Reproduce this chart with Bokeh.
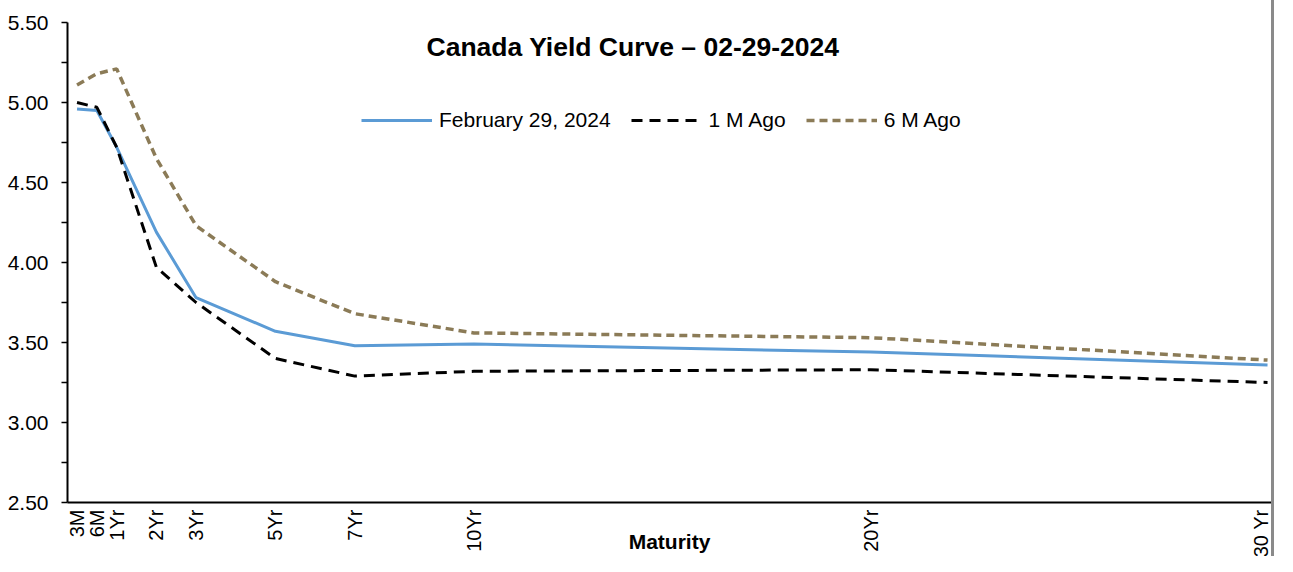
import math
from bokeh.plotting import figure
from bokeh.models import (Range1d, FixedTicker, NumeralTickFormatter, Label,
                          Legend, LegendItem, ColumnDataSource)
from bokeh.embed import file_html
from bokeh.resources import INLINE

# ---- data ----
maturity_labels = ["3M", "6M", "1Yr", "2Yr", "3Yr", "5Yr", "7Yr", "10Yr", "20Yr", "30 Yr"]
maturity_pos = [0.0, 0.5, 1, 2, 3, 5, 7, 10, 20, 30]   # positions
current = [4.96, 4.95, 4.72, 4.19, 3.78, 3.57, 3.48, 3.49, 3.44, 3.36]
one_month_ago = [5.00, 4.97, 4.72, 3.97, 3.75, 3.40, 3.29, 3.32, 3.33, 3.25]
six_months_ago = [5.11, 5.18, 5.21, 4.65, 4.23, 3.88, 3.68, 3.56, 3.53, 3.39]
series_names = ["February 29, 2024", "1 M Ago", "6 M Ago"]
y_ticks = [2.5, 3.0, 3.5, 4.0, 4.5, 5.0, 5.5]
y_minor = [2.75, 3.25, 3.75, 4.25, 4.75, 5.25]
title_text = "Canada Yield Curve \u2013 02-29-2024"
x_title = "Maturity"

FONT = "Liberation Sans"

src = ColumnDataSource(dict(x=maturity_pos, cur=current, m1=one_month_ago, m6=six_months_ago))

p = figure(width=1274, height=556, output_backend="svg", toolbar_location=None,
           x_range=Range1d(-0.24, 30.1), y_range=Range1d(2.5, 5.5),
           min_border_left=67, min_border_right=3, min_border_top=22, min_border_bottom=50)
p.styles = {"border-right": "3px solid #8a8a8a"}
p.outline_line_color = None
p.xgrid.visible = False
p.ygrid.visible = False
p.background_fill_color = "white"
p.border_fill_color = "white"

r_cur = p.line("x", "cur", source=src, line_color="#5B9BD5", line_width=3)
r_m1 = p.line("x", "m1", source=src, line_color="black", line_width=3, line_dash="11 7")
r_m6 = p.line("x", "m6", source=src, line_color="#8B7B57", line_width=3.5, line_dash="8 5")

# y axis
ya = p.yaxis[0]
ya.ticker = FixedTicker(ticks=y_ticks, minor_ticks=y_minor)
ya.formatter = NumeralTickFormatter(format="0.00")
ya.major_label_text_font = FONT
ya.major_label_text_font_size = "21px"
ya.major_label_text_color = "black"
ya.axis_line_color = "black"
ya.axis_line_width = 2
ya.major_tick_line_color = "black"
ya.minor_tick_line_color = "black"
ya.major_tick_line_width = 1.5
ya.minor_tick_line_width = 1.5
ya.major_tick_out = 6
ya.major_tick_in = 0
ya.minor_tick_out = 6
ya.minor_tick_in = 0
ya.major_label_standoff = 13

# x axis
xa = p.xaxis[0]
xa.ticker = FixedTicker(ticks=maturity_pos, minor_ticks=[])
xa.major_label_overrides = {float(k): v for k, v in zip(maturity_pos, maturity_labels)}
xa.major_label_orientation = math.pi / 2
xa.major_label_text_font = FONT
xa.major_label_text_font_size = "20px"
xa.major_label_text_color = "black"
xa.axis_line_color = "black"
xa.axis_line_width = 2
xa.major_tick_out = 0
xa.major_tick_in = 0
xa.minor_tick_out = 0
xa.minor_tick_in = 0
xa.major_label_standoff = 7
xa.axis_label = x_title
xa.axis_label_text_font = FONT
xa.axis_label_text_font_size = "21px"
xa.axis_label_text_font_style = "bold"
xa.axis_label_text_color = "black"
xa.axis_label_standoff = -30

# title inside plot
p.add_layout(Label(x=565.5, y=455.5, x_units="screen", y_units="screen", text=title_text,
                   text_font=FONT, text_font_size="26.5px", text_font_style="bold",
                   text_align="center", text_baseline="middle", text_color="black"))

legend = Legend(items=[LegendItem(label=series_names[0], renderers=[r_cur]),
                       LegendItem(label=series_names[1], renderers=[r_m1]),
                       LegendItem(label=series_names[2], renderers=[r_m6])],
                location=(294, 370), orientation="horizontal",
                glyph_width=71, label_standoff=7, spacing=20, padding=0, margin=0,
                border_line_color=None, background_fill_alpha=0,
                label_text_font=FONT, label_text_font_size="21px", label_text_color="black")
p.add_layout(legend)

open("out.html", "w").write(file_html(p, INLINE))
